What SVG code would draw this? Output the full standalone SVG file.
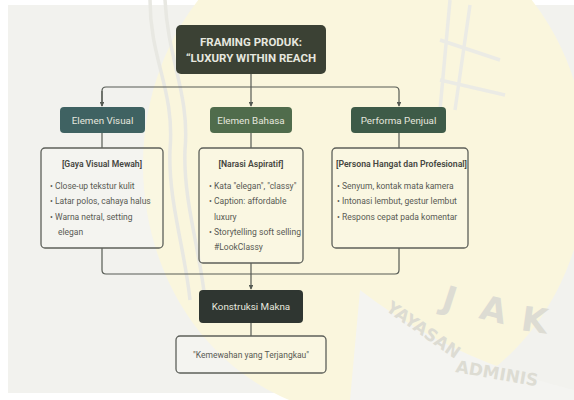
<svg xmlns="http://www.w3.org/2000/svg" width="574" height="400" viewBox="0 0 574 400">
  <style>
    .conn{fill:none;stroke:#565b54;stroke-width:1.2}
    .card{fill:#ffffff;fill-opacity:0.15;stroke:#5d605a;stroke-width:1.3}
    .hd{font-family:Roboto,"Liberation Sans",sans-serif;fill:#e6e7df;text-anchor:middle}
    .ttl{font-family:Roboto,"Liberation Sans",sans-serif;font-size:8.6px;font-weight:600;fill:#45463f}
    .li{font-family:Roboto,"Liberation Sans",sans-serif;font-size:8.5px;fill:#595a54}
    .wm{font-family:"DejaVu Sans","Liberation Sans",sans-serif;font-weight:bold;fill:#dddcd3}
  </style>
  <defs>
    <marker id="arr" viewBox="0 0 6 6" refX="5" refY="3" markerWidth="4" markerHeight="4" orient="auto">
      <path d="M0,0 L6,3 L0,6 Z" fill="#565b54"/>
    </marker>
  </defs>

  <!-- background and watermark -->
  <g id="background">
    <rect x="0" y="0" width="574" height="400" fill="#ffffff"/>
    <rect x="8" y="5" width="566" height="388" fill="#f2f2ee"/>
    <ellipse cx="365" cy="165" rx="222" ry="250" fill="#faf6dd"/>
    <path d="M150,0 C150,60 175,90 170,150 C168,200 185,250 190,300" fill="none" stroke="#e8e8e2" stroke-width="3.5"/>
    <path d="M165,0 C168,60 190,95 185,150 C183,200 200,250 205,300" fill="none" stroke="#e8e8e2" stroke-width="3.5"/>
    <path d="M450,0 L440,110 M470,5 L455,110 M440,40 L500,60 M440,80 L505,95" fill="none" stroke="#ebebe5" stroke-width="3.5"/>
    <path d="M360,290 Q450,360 574,390 L574,400 L350,400 Z" fill="#f4f4f1"/>
    <text class="wm" x="440" y="308" font-size="34" transform="rotate(18 440 308)">J</text>
    <text class="wm" x="478" y="318" font-size="34" transform="rotate(14 478 318)">A</text>
    <text class="wm" x="520" y="330" font-size="34" transform="rotate(8 520 330)">K</text>
    <text class="wm" x="385" y="310" font-size="17" fill="#e2e1d9" transform="rotate(35 385 310)">YAYASAN</text>
    <text class="wm" x="455" y="372" font-size="17" fill="#e2e1d9" transform="rotate(10 455 372)">ADMINIS</text>
  </g>

  <!-- connectors -->
  <g id="connectors">
    <path class="conn" d="M251,74 V106" marker-end="url(#arr)"/>
    <path class="conn" d="M102,106 V91 Q102,87 106,87 H395 Q399,87 399,91 V106" marker-end="url(#arr)"/>
    <path class="conn" d="M102,91 V106" marker-end="url(#arr)"/>
    <path class="conn" d="M102,133 V148"/>
    <path class="conn" d="M251,133 V148"/>
    <path class="conn" d="M399,133 V148"/>
    <path class="conn" d="M102,248 V270 Q102,274 106,274 H395 Q399,274 399,270 V248"/>
    <path class="conn" d="M251,263 V289" marker-end="url(#arr)"/>
    <path class="conn" d="M251,323 V336"/>
  </g>

  <g id="root">
    <rect x="176" y="25" width="150" height="49" rx="5" fill="#3b4134"/>
    <text class="hd" x="251" y="46" font-size="11.5" font-weight="bold">FRAMING PRODUK:</text>
    <text class="hd" x="251" y="62" font-size="11.5" font-weight="bold">“LUXURY WITHIN REACH</text>
  </g>

  <g id="elemen-visual">
    <rect x="60" y="107" width="85" height="26" rx="4" fill="#3f6262"/>
    <text class="hd" x="102.5" y="123.5" font-size="9.8">Elemen Visual</text>
  </g>
  <g id="elemen-bahasa">
    <rect x="210" y="107" width="82" height="26" rx="4" fill="#506c4c"/>
    <text class="hd" x="251" y="123.5" font-size="9.8">Elemen Bahasa</text>
  </g>
  <g id="performa-penjual">
    <rect x="351" y="107" width="95" height="26" rx="4" fill="#3e5b48"/>
    <text class="hd" x="398.5" y="123.5" font-size="9.8">Performa Penjual</text>
  </g>

  <g id="gaya-visual">
    <rect class="card" x="41" y="148" width="122" height="100" rx="4"/>
    <text class="ttl" x="102" y="167" text-anchor="middle">[Gaya Visual Mewah]</text>
    <text class="li" x="50" y="189">•  Close-up tekstur kulit</text>
    <text class="li" x="50" y="204">•  Latar polos, cahaya halus</text>
    <text class="li" x="50" y="220">•  Warna netral, setting</text>
    <text class="li" x="58" y="235">elegan</text>
  </g>

  <g id="narasi-aspiratif">
    <rect class="card" x="199" y="148" width="104" height="115" rx="4"/>
    <text class="ttl" x="251" y="167" text-anchor="middle">[Narasi Aspiratif]</text>
    <text class="li" x="209" y="189">• Kata "elegan", "classy"</text>
    <text class="li" x="209" y="204">• Caption: affordable</text>
    <text class="li" x="214" y="220">luxury</text>
    <text class="li" x="209" y="235" textLength="92" lengthAdjust="spacingAndGlyphs">• Storytelling soft selling</text>
    <text class="li" x="214" y="250">#LookClassy</text>
  </g>

  <g id="persona">
    <rect class="card" x="332" y="148" width="136" height="100" rx="4"/>
    <text class="ttl" x="336" y="167" textLength="131" lengthAdjust="spacingAndGlyphs">[Persona Hangat dan Profesional]</text>
    <text class="li" x="337" y="189">• Senyum, kontak mata kamera</text>
    <text class="li" x="337" y="204">• Intonasi lembut, gestur lembut</text>
    <text class="li" x="337" y="220">• Respons cepat pada komentar</text>
  </g>

  <g id="konstruksi-makna">
    <rect x="199" y="290" width="104" height="33" rx="4" fill="#2f3631"/>
    <text class="hd" x="251" y="310" font-size="9.8">Konstruksi Makna</text>
  </g>

  <g id="kemewahan">
    <rect class="card" x="176" y="336" width="150" height="37" rx="4"/>
    <text class="li" x="251" y="358" text-anchor="middle" font-size="9" fill="#41423d">"Kemewahan yang Terjangkau"</text>
  </g>
</svg>
